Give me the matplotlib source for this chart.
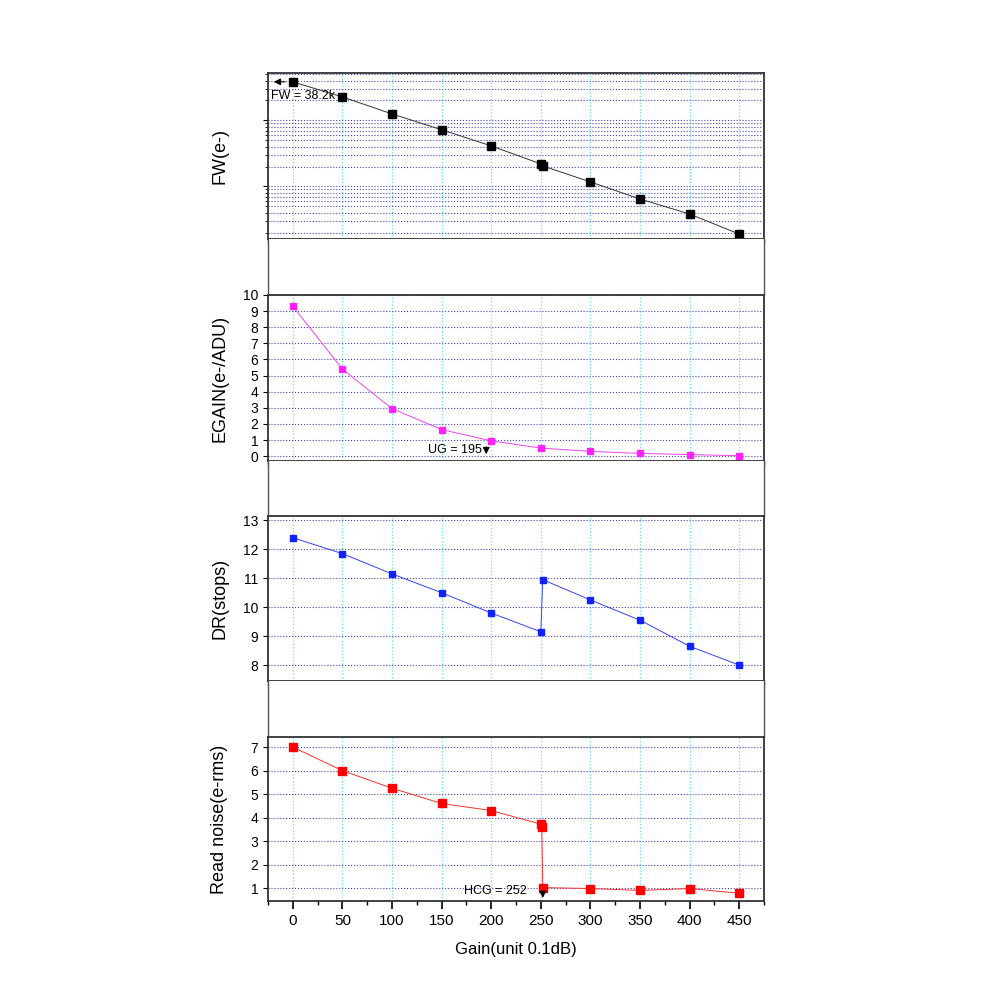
import numpy as np
import matplotlib.pyplot as plt
from matplotlib.ticker import MultipleLocator, LogLocator, NullFormatter

plt.rcParams["font.family"] = "Liberation Sans"

# Data
gain_fw = [0, 50, 100, 150, 200, 250, 252, 300, 350, 400, 450]
fw = [38200, 22600, 12500, 7200, 4100, 2190, 2040, 1170, 644, 382, 190]

gain_eg = [0, 50, 100, 150, 200, 250, 300, 350, 400, 450]
egain = [9.3, 5.4, 2.95, 1.65, 0.95, 0.5, 0.3, 0.17, 0.1, 0.03]

gain_dr = [0, 50, 100, 150, 200, 250, 252, 300, 350, 400, 450]
dr = [12.4, 11.85, 11.15, 10.5, 9.8, 9.15, 10.95, 10.25, 9.55, 8.65, 8.0]

gain_rn = [0, 50, 100, 150, 200, 250, 251, 252, 300, 350, 400, 450]
rn = [7.0, 6.0, 5.25, 4.6, 4.3, 3.72, 3.6, 1.02, 0.98, 0.9, 0.98, 0.78]

x_ticks = [0, 50, 100, 150, 200, 250, 300, 350, 400, 450]

fig = plt.figure(figsize=(10, 10), dpi=100)
gs = fig.add_gridspec(7, 1, height_ratios=[166, 56, 166, 55, 165, 56, 164],
                      left=0.268, right=0.764, top=0.927, bottom=0.099, hspace=0)
axes = [fig.add_subplot(gs[i]) for i in range(7)]
ax_fw, ax_eg, ax_dr, ax_rn = axes[0], axes[2], axes[4], axes[6]

for gap in (axes[1], axes[3], axes[5]):
    gap.set_xticks([])
    gap.set_yticks([])
    gap.spines["top"].set_visible(False)
    gap.spines["bottom"].set_visible(False)
    for s in ("left", "right"):
        gap.spines[s].set_linewidth(1.0)
        gap.spines[s].set_color("#555555")

def style(ax, label):
    ax.set_xlim(-25, 475)
    ax.set_xticks(x_ticks)
    ax.xaxis.set_minor_locator(MultipleLocator(25))
    ax.tick_params(axis="x", which="major", length=6, width=1.2, labelsize=11)
    ax.tick_params(axis="x", which="minor", length=3, width=1.0)
    ax.tick_params(axis="y", labelsize=10)
    ax.grid(True, axis="x", color="#66e0f0", linestyle=":", linewidth=0.9)
    ax.grid(True, axis="y", which="both", color="#4444bb", linestyle=":", linewidth=0.8)
    ax.set_ylabel(label, fontsize=13)
    for s in ax.spines.values():
        s.set_linewidth(1.3)
        s.set_color("#333333")
    ax.set_axisbelow(True)

# FW
ax_fw.semilogy(gain_fw, fw, color="#333333", linewidth=0.7, marker="s",
               markersize=6, markerfacecolor="black", markeredgecolor="black")
ax_fw.set_ylim(160, 52000)
ax_fw.yaxis.set_major_locator(LogLocator(base=10))
ax_fw.yaxis.set_minor_locator(LogLocator(base=10, subs=np.arange(2, 10)))
ax_fw.yaxis.set_major_formatter(NullFormatter())
ax_fw.yaxis.set_minor_formatter(NullFormatter())
style(ax_fw, "FW(e-)")
ax_fw.set_xticklabels([])
ax_fw.annotate("", xy=(-22, fw[0]), xytext=(-5, fw[0]),
               arrowprops=dict(arrowstyle="-|>", color="black", lw=0.8))
ax_fw.text(-22, 23000, "FW = 38.2k", fontsize=9, va="center", ha="left")

# EGAIN
ax_eg.plot(gain_eg, egain, color="#ee44ee", linewidth=0.7, marker="s",
           markersize=5, markerfacecolor="#ff22ff", markeredgecolor="#ff22ff")
ax_eg.set_ylim(-0.3, 10)
ax_eg.set_yticks(range(0, 11))
style(ax_eg, "EGAIN(e-/ADU)")
ax_eg.set_xticklabels([])
ax_eg.annotate("", xy=(195, -0.05), xytext=(195, 0.75),
               arrowprops=dict(arrowstyle="-|>", color="black", lw=0.8))
ax_eg.text(191, 0.4, "UG = 195", fontsize=9, va="center", ha="right")

# DR
ax_dr.plot(gain_dr, dr, color="#3344ee", linewidth=0.7, marker="s",
           markersize=5, markerfacecolor="#1122ff", markeredgecolor="#1122ff")
ax_dr.set_ylim(7.45, 13.15)
ax_dr.set_yticks(range(8, 14))
style(ax_dr, "DR(stops)")
ax_dr.set_xticklabels([])

# Read noise
ax_rn.plot(gain_rn, rn, color="#ee3333", linewidth=0.7, marker="s",
           markersize=6, markerfacecolor="#ff0000", markeredgecolor="#ff0000")
ax_rn.set_ylim(0.45, 7.43)
ax_rn.set_yticks(range(1, 8))
style(ax_rn, "Read noise(e-rms)")
ax_rn.set_xlabel("Gain(unit 0.1dB)", fontsize=12, labelpad=10)
ax_rn.annotate("", xy=(252, 0.46), xytext=(252, 0.95),
               arrowprops=dict(arrowstyle="-|>", color="black", lw=0.8))
ax_rn.text(236, 0.88, "HCG = 252", fontsize=9, va="center", ha="right")

for ax in (ax_fw, ax_eg, ax_dr, ax_rn):
    ax.yaxis.set_label_coords(-0.08, 0.5)

fig.savefig("out.png", dpi=100)
